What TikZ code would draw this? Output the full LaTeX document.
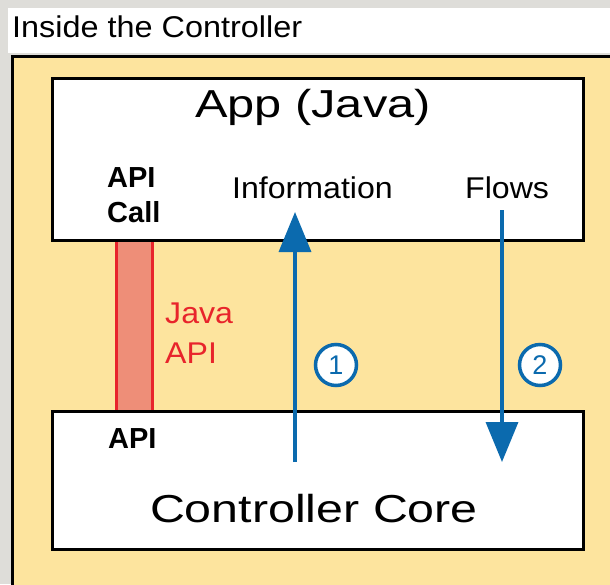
\documentclass[tikz,border=0pt]{standalone}
\usepackage{fontspec}
\setmainfont{Liberation Sans}
\usepackage{graphicx}
\usetikzlibrary{arrows.meta, positioning}
\definecolor{pagegray}{HTML}{DEDDD9}
\definecolor{frameyellow}{HTML}{FDE49E}
\definecolor{apired}{HTML}{E8242B}
\definecolor{apifill}{HTML}{EE8E78}
\definecolor{flowblue}{HTML}{0B6AAE}
\newcommand{\wider}[2]{\scalebox{#1}[1]{#2}}
\tikzset{
  block/.style     = {draw=black, fill=white, line width=3pt,
                      minimum width=531pt, inner sep=0pt},
  bigtext/.style   = {font=\fontsize{39}{44}\selectfont, inner sep=0pt},
  plaintext/.style = {font=\fontsize{30}{34}\selectfont, inner sep=0pt},
  apitext/.style   = {font=\fontsize{29}{34}\selectfont\bfseries, inner sep=0pt},
  javatext/.style  = {plaintext, text=apired},
  redline/.style   = {apired, line width=3pt},
  flow/.style      = {flowblue, line width=3.5pt,
                      -{Triangle[length=40pt, width=32pt]}},
  stepmark/.style  = {draw=flowblue, circle, fill=white, line width=3.5pt,
                      minimum size=41pt, inner sep=0pt, text=flowblue,
                      font=\fontsize{27}{30}\selectfont},
}

\begin{document}
\begin{tikzpicture}[x=1pt, y=-1pt]
\useasboundingbox (0,0) rectangle (610,584);
\clip (0,0) rectangle (610,584);

% ===== page, title strip and frame =====
\fill[pagegray] (0,0) rectangle (610,584);
\fill[white] (8,8) rectangle (620,53);
\node[plaintext, anchor=base west] (title) at (12,37) {\wider{1.08}{Inside the Controller}};
\filldraw[fill=frameyellow, draw=black, line width=3pt] (12,56) rectangle (630,600);

% ===== Java API bar (behind the boxes) =====
\node[fill=apifill, minimum width=35pt, minimum height=171pt, inner sep=0pt]
  (javaapi) at (134.5,325.5) {};
\draw[redline] (javaapi.north west) -- (javaapi.south west);
\draw[redline] (javaapi.north east) -- (javaapi.south east);
\node[javatext, anchor=base west] (javaword) at (165,323) {\wider{1.07}{Java}};
\node[javatext, anchor=base west] (apiword) at (165,363) {\wider{1.07}{API}};

% ===== the two blocks =====
\node[block, minimum height=162pt] (app)  at (317.5,159) {};
\node[block, minimum height=138pt] (core) at (317.5,480) {};

\node[bigtext, anchor=base] (apptitle) at (313,117) {\wider{1.25}{App (Java)}};
\node[bigtext, anchor=base] (coretitle) at (314,522) {\wider{1.24}{Controller Core}};

\node[apitext, anchor=base west] (apicall) at (107,187) {API};
\node[apitext, anchor=base west] (callword) at (107,222) {Call};
\node[apitext, anchor=base west] (coreapi) at (108,448) {API};

\node[plaintext, anchor=base west] (info) at (232,198) {\wider{1.07}{Information}};
\node[plaintext, anchor=base west] (flows) at (465,198) {\wider{1.07}{Flows}};

% ===== flows =====
\coordinate (infofrom) at (295,462);
\coordinate (infoto)   at (295,212);
\coordinate (flowfrom) at (502,210);
\coordinate (flowto)   at (502,462);
\draw[flow] (infofrom) -- (infoto);
\draw[flow] (flowfrom) -- (flowto);

\node[stepmark] (one) at (336,365) {1};
\node[stepmark] (two) at (540,365) {2};

\end{tikzpicture}
\end{document}
